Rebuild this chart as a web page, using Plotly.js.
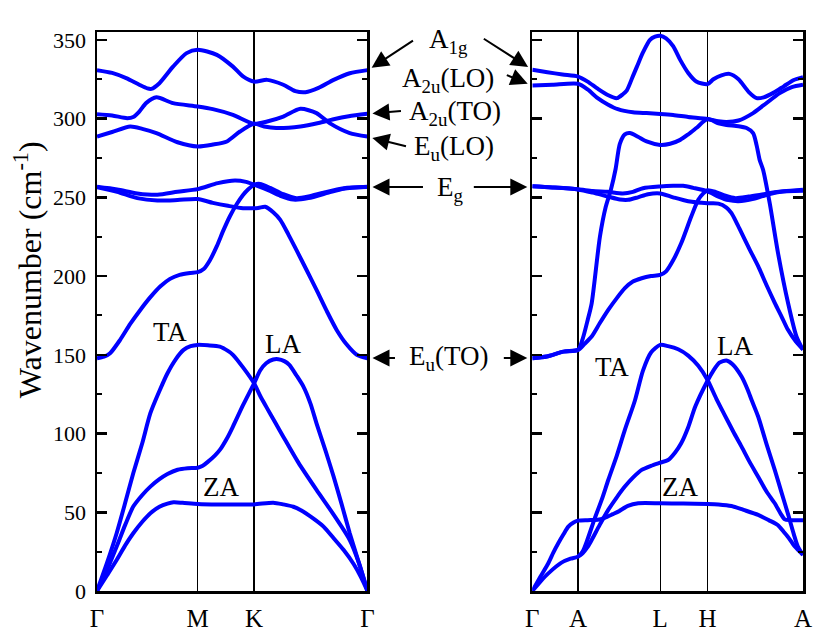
<!DOCTYPE html>
<html><head><meta charset="utf-8">
<script src="https://cdn.plot.ly/plotly-3.0.1.min.js"></script>
<style>html,body{margin:0;padding:0;background:#fff}</style>
</head><body><div id="chart" style="width:830px;height:640px"></div>
<script>
// high-symmetry path labels and positions along the path
const leftLabels = ['Γ', 'M', 'K', 'Γ'];
const leftPos = [0, 1.0, 1.56, 2.686];
const rightLabels = ['Γ', 'A', 'L', 'H', 'A'];
const rightPos = [0, 0.454, 1.271, 1.742, 2.691];
const yTicks = [0, 50, 100, 150, 200, 250, 300, 350];

// Left panel (Γ-M-K-Γ) bands: [k, wavenumber cm^-1]
const L_A1g = [[0,330.8],[0.15,329],[0.29,325.7],[0.42,321.5],[0.5,319.2],[0.54,318.9],[0.62,322.5],[0.755,333],[0.89,341.6],[1.0,343.7],[1.19,340.5],[1.35,333],[1.45,326.8],[1.56,323.5],[1.69,324.6],[1.85,321.5],[1.97,317.5],[2.07,316.8],[2.2,319.5],[2.35,324.6],[2.51,328.8],[2.686,330.8]];
const L_A2u = [[0,302.8],[0.15,302],[0.3,300.3],[0.36,301],[0.42,304.5],[0.49,310],[0.59,313.5],[0.755,309.8],[1.0,307.7],[1.15,306],[1.35,302.4],[1.56,296.7],[1.69,298.2],[1.85,301.3],[2.02,306.2],[2.18,303.5],[2.31,297.1],[2.51,290.8],[2.686,288.6]];
const L_EuLO = [[0,288.6],[0.15,291.5],[0.33,295],[0.45,293.5],[0.59,290.8],[0.8,285],[1.0,282.3],[1.15,283.5],[1.29,285.5],[1.42,291.8],[1.56,296.7],[1.66,295],[1.78,294],[2.02,295],[2.2,297.2],[2.35,299.6],[2.5,301.5],[2.686,303.1]];
const L_EgA = [[0,256.7],[0.2,255],[0.4,252.5],[0.6,251.6],[0.8,253.5],[1.0,255.2],[1.2,259],[1.37,260.7],[1.48,259.8],[1.56,258],[1.7,254.5],[1.82,251],[1.95,248.6],[2.1,249.5],[2.3,253],[2.45,255.5],[2.686,256.7]];
const L_EgB = [[0,256.5],[0.2,253.5],[0.4,249.5],[0.6,248],[0.8,248.3],[1.0,248.9],[1.15,246.5],[1.3,244.6],[1.45,243.1],[1.6,243.3],[1.67,244],[1.75,240.5],[1.82,235.7],[1.9,226.5],[1.98,216.6],[2.08,204],[2.18,191.2],[2.28,178],[2.38,165.8],[2.48,156.5],[2.58,150],[2.686,147.8]];
const L_EuTO = [[0,147.8],[0.07,148.8],[0.13,151],[0.23,159.5],[0.33,169.6],[0.43,178.5],[0.53,186.6],[0.63,193.5],[0.725,198.2],[0.82,200.8],[0.924,202],[1.0,202.5],[1.06,204.5],[1.12,209.9],[1.19,219],[1.255,229],[1.32,238],[1.39,245.9],[1.45,251.5],[1.5,255],[1.56,258],[1.62,258.5],[1.72,256],[1.85,252],[1.98,249.5],[2.1,250.5],[2.25,253],[2.45,255.8],[2.686,256.5]];
const L_TA = [[0,0],[0.1,18],[0.195,36.7],[0.28,56],[0.36,74.8],[0.45,94],[0.53,112.9],[0.62,127],[0.7,138.3],[0.78,147],[0.86,153.1],[0.93,155.5],[1.0,156.3],[1.1,156],[1.22,155.2],[1.3,152.5],[1.35,150],[1.45,142],[1.56,131.9],[1.62,124],[1.68,117.1],[1.77,107],[1.85,98],[2.0,81.5],[2.18,64.2],[2.35,48.5],[2.51,32.4],[2.6,18],[2.686,0]];
const L_LA = [[0,0],[0.13,18],[0.2,29],[0.28,42],[0.36,53.6],[0.45,61],[0.53,66.3],[0.62,71],[0.7,74.3],[0.8,77],[0.9,78],[1.0,78.3],[1.05,79.5],[1.1,82],[1.17,86],[1.22,89.6],[1.3,98],[1.35,104.4],[1.45,118],[1.56,131.9],[1.62,140],[1.68,144.6],[1.75,147],[1.8,147.2],[1.86,146],[1.91,143.6],[1.98,137],[2.05,129.8],[2.12,119],[2.18,106.5],[2.27,89],[2.35,72.6],[2.43,55],[2.51,36.7],[2.6,18],[2.686,0]];
const L_ZA = [[0,0],[0.1,10],[0.195,19.7],[0.28,29],[0.36,36.7],[0.45,44],[0.53,49.4],[0.62,53.5],[0.7,55.5],[0.76,56.3],[0.85,56],[1.0,55.3],[1.2,55],[1.35,55],[1.56,55],[1.75,56.1],[1.85,55],[1.95,53.5],[2.02,51.5],[2.15,46],[2.25,40.9],[2.35,33.5],[2.45,26],[2.55,17],[2.62,9],[2.686,0]];

// Right panel (Γ-A-L-H-A) bands
const R_A1g = [[0,331],[0.15,329.5],[0.3,328],[0.454,326.7],[0.55,323.5],[0.65,319],[0.75,315],[0.84,313],[0.9,315.5],[0.94,318],[1.0,327],[1.04,333],[1.1,342],[1.17,350],[1.22,352],[1.271,352.6],[1.33,351],[1.4,346],[1.47,337.3],[1.55,329],[1.63,323.6],[1.742,321.9],[1.8,325],[1.88,327.5],[1.96,328.4],[2.05,325],[2.15,317],[2.23,313],[2.3,313.5],[2.4,316.5],[2.5,320.5],[2.6,324.5],[2.691,326.3]];
const R_A2u = [[0,321],[0.2,321.5],[0.454,322.1],[0.55,318.5],[0.65,313],[0.75,309],[0.85,306],[1.0,304],[1.136,303.5],[1.271,303],[1.4,302.3],[1.55,301],[1.742,299.7],[1.85,298.3],[1.93,297.8],[2.05,298.8],[2.195,303.5],[2.3,308.5],[2.46,316.2],[2.58,320],[2.691,321.5]];
const R_EuHi = [[0,147.8],[0.143,148.9],[0.31,152],[0.454,153.1],[0.5,160],[0.55,172],[0.59,182.7],[0.672,225],[0.73,244],[0.781,254.8],[0.828,268],[0.87,284],[0.92,290],[0.97,290.8],[1.05,288.5],[1.136,285.5],[1.271,283.3],[1.37,284],[1.47,286.5],[1.55,290],[1.63,294],[1.742,299.7],[1.85,297],[1.93,296],[2.05,295.2],[2.13,294],[2.195,290.8],[2.23,283],[2.26,273.8],[2.294,267.5],[2.36,246.3],[2.443,214.5],[2.543,182.7],[2.626,161.6],[2.691,153.1]];
const R_EuLo = [[0,147.8],[0.143,148.9],[0.31,152],[0.454,153.1],[0.52,157],[0.59,161.6],[0.67,170],[0.755,178.5],[0.84,186],[0.92,192.3],[1.0,196.5],[1.087,198.6],[1.18,200],[1.271,200.7],[1.33,203],[1.4,210],[1.48,220.8],[1.58,237.8],[1.65,248.4],[1.7,252.5],[1.742,254.5],[1.82,253.5],[1.92,251],[2.02,249.5],[2.15,250.5],[2.3,252],[2.45,253.5],[2.691,254.2]];
const R_EgA = [[0,257],[0.2,256.3],[0.454,255.2],[0.6,254],[0.75,253.5],[0.9,252.5],[1.0,253.5],[1.1,255.8],[1.271,256.9],[1.4,257.3],[1.5,257.3],[1.6,256],[1.742,253.8],[1.85,250.5],[1.95,248.2],[2.05,247.5],[2.2,249],[2.35,252],[2.5,253.8],[2.691,254.8]];
const R_EgB = [[0,257],[0.2,256.3],[0.454,255],[0.6,253],[0.75,250.5],[0.87,248.6],[0.953,248.4],[1.05,250],[1.15,252],[1.271,252.5],[1.4,250],[1.55,247.5],[1.742,246.2],[1.85,246],[1.93,243.5],[1.98,240],[2.03,234],[2.08,227.4],[2.16,217],[2.245,206.3],[2.33,194],[2.41,183],[2.48,174],[2.54,166],[2.62,158.5],[2.691,153.5]];
const R_ZA = [[0,0],[0.08,9],[0.159,17.6],[0.21,24.5],[0.258,30.3],[0.31,36],[0.358,40.9],[0.41,43.5],[0.454,44.7],[0.55,45],[0.65,45.2],[0.72,46.5],[0.8,48.8],[0.854,50.4],[0.95,54],[1.053,55.7],[1.271,55.7],[1.5,55.5],[1.742,55.3],[1.85,55],[1.98,54],[2.1,51.5],[2.245,48.3],[2.35,45],[2.44,41.9],[2.5,37.5],[2.54,34.5],[2.61,28.2],[2.691,22.9]];
const R_TA = [[0,0],[0.08,6],[0.159,11.2],[0.29,18],[0.38,20.5],[0.454,21.8],[0.5,25],[0.55,33],[0.62,46],[0.69,58],[0.755,70.5],[0.84,86],[0.92,102.3],[1.02,121],[1.1,140],[1.18,151.5],[1.271,156.3],[1.35,155.5],[1.45,153.5],[1.55,149.5],[1.65,143],[1.742,134],[1.83,122],[1.91,112],[2.0,101],[2.08,91.7],[2.16,82],[2.245,72.6],[2.33,63],[2.41,55.7],[2.47,49],[2.51,45.5],[2.56,45],[2.691,45]];
const R_LA = [[0.454,21.8],[0.5,24],[0.55,28],[0.59,32.4],[0.67,42],[0.755,51.5],[0.84,59.5],[0.92,66.3],[1.0,72],[1.087,76.9],[1.18,79.5],[1.271,81.5],[1.35,83.2],[1.42,88],[1.48,93.8],[1.55,104],[1.62,117.1],[1.742,133.5],[1.8,140],[1.86,145],[1.93,146.4],[1.99,144],[2.08,136.2],[2.14,128],[2.18,121.3],[2.245,110.8],[2.33,93],[2.41,76.9],[2.48,62],[2.54,49.3],[2.6,36],[2.64,28.2],[2.691,23]];

const leftBands = [L_A1g, L_A2u, L_EuLO, L_EgA, L_EgB, L_EuTO, L_TA, L_LA, L_ZA];
const rightBands = [R_A1g, R_A2u, R_EuHi, R_EuLo, R_EgA, R_EgB, R_ZA, R_TA, R_LA];

const BLUE = '#0000ff';
const FONT = '"Liberation Serif", "Times New Roman", Times, serif';
function band(pts, xa, ya) {
  return {x: pts.map(p => p[0]), y: pts.map(p => p[1]), xaxis: xa, yaxis: ya,
    type: 'scatter', mode: 'lines', hoverinfo: 'skip', showlegend: false,
    line: {color: BLUE, width: 4, shape: 'spline', smoothing: 0.7}};
}
const traces = leftBands.map(b => band(b, 'x', 'y')).concat(rightBands.map(b => band(b, 'x2', 'y2')));

function xax(domain, range, pos, labels, anchor) {
  return {domain: domain, range: range, anchor: anchor, tickmode: 'array', tickvals: pos, ticktext: labels,
    ticks: '', showgrid: true, gridcolor: '#000', gridwidth: 1.3, zeroline: false,
    showline: true, linecolor: '#000', linewidth: 2.5, mirror: true,
    tickfont: {family: FONT, size: 25, color: '#000'}, ticklabelstandoff: 3, fixedrange: true};
}
function yax(anchor, labels) {
  return {domain: [0, 1], range: [0, 355], anchor: anchor, tickmode: 'array', tickvals: yTicks,
    ticks: 'inside', ticklen: 10, tickwidth: 2.5, tickcolor: '#000', mirror: 'ticks',
    showline: true, linecolor: '#000', linewidth: 2.5, showgrid: false, zeroline: false,
    showticklabels: labels, tickfont: {family: FONT, size: 22, color: '#000'}, ticklabelstandoff: 4,
    minor: {dtick: 25, tick0: 0, ticks: 'inside', ticklen: 5, tickwidth: 2, tickcolor: '#000', showgrid: false},
    fixedrange: true};
}

const txt = (text, x, y, size, xref, yref) => ({text: text, x: x, y: y, xref: xref || 'paper', yref: yref || 'paper',
  showarrow: false, xanchor: 'center', yanchor: 'middle', font: {family: FONT, size: size, color: '#000'}});
const arr = (x, y, ax, ay, xref, yref) => ({text: '', x: x, y: y, xref: xref, yref: yref, ax: ax, ay: ay,
  axref: 'pixel', ayref: 'pixel', showarrow: true, arrowhead: 2, arrowsize: 1.7, arrowwidth: 2,
  arrowcolor: '#000', standoff: 5});

const annotations = [
  // y axis title
  Object.assign(txt('Wavenumber (cm<sup>-1</sup>)', -0.0977, 0.574, 32), {textangle: -90}),
  // mode labels
  txt('A<sub>1g</sub>', 0.4972, 0.984, 27),
  txt('A<sub>2u</sub>(LO)', 0.4972, 0.914, 27),
  txt('A<sub>2u</sub>(TO)', 0.5071, 0.855, 27),
  txt('E<sub>u</sub>(LO)', 0.5057, 0.7925, 27),
  txt('E<sub>g</sub>', 0.5, 0.719, 27),
  txt('E<sub>u</sub>(TO)', 0.4972, 0.4168, 27),
  // arrows to left panel (Γ end) and right panel (Γ start)
  arr(2.686, 330.5, 47, -31, 'x', 'y'),
  arr(0, 331, -50, -32, 'x2', 'y2'),
  arr(0, 321, -27, -11, 'x2', 'y2'),
  arr(2.686, 303, 35, -3, 'x', 'y'),
  arr(2.686, 288.5, 40, 10, 'x', 'y'),
  arr(2.686, 256.5, 57, 0, 'x', 'y'),
  arr(0, 256.5, -60, 0, 'x2', 'y2'),
  arr(2.686, 148, 29, 0, 'x', 'y'),
  arr(0, 148, -30, 0, 'x2', 'y2'),
  // acoustic branch labels
  txt('TA', 0.725, 164.5, 27, 'x', 'y'),
  txt('LA', 1.85, 156.9, 27, 'x', 'y'),
  txt('ZA', 1.229, 65.8, 27, 'x', 'y'),
  txt('TA', 0.796, 142.1, 27, 'x2', 'y2'),
  txt('LA', 2.013, 155.8, 27, 'x2', 'y2'),
  txt('ZA', 1.467, 66.3, 27, 'x2', 'y2')
];

const layout = {
  width: 830, height: 640, margin: {l: 97, r: 27, t: 32, b: 49},
  paper_bgcolor: '#fff', plot_bgcolor: '#fff', showlegend: false,
  font: {family: FONT, color: '#000'},
  xaxis: xax([0, 0.3831], [0, 2.686], leftPos, leftLabels, 'y'),
  yaxis: yax('x', true),
  xaxis2: xax([0.6166, 1], [0, 2.691], rightPos, rightLabels, 'y2'),
  yaxis2: yax('x2', false),
  annotations: annotations
};
Plotly.newPlot('chart', traces, layout, {staticPlot: true, displayModeBar: false});
</script></body></html>
